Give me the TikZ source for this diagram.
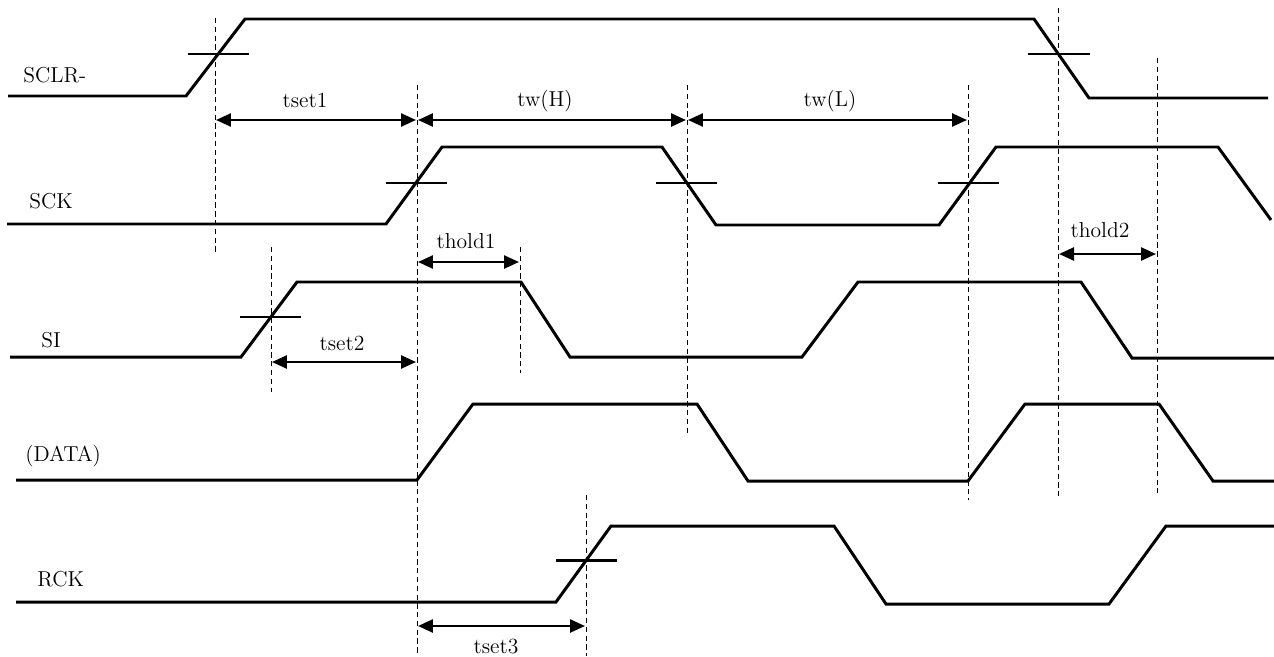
\documentclass[tikz,border=0pt]{standalone}
\usetikzlibrary{arrows.meta}
\begin{document}
\begin{tikzpicture}[x=0.02cm,y=-0.02cm,
    wave/.style={line width=1.7pt},
    tick/.style={line width=1.7pt},
    guide/.style={line width=0.5pt,dash pattern=on 3pt off 2pt},
    span/.style={line width=1.1pt,shorten <=0.6pt,shorten >=0.6pt,
      {Triangle[length=8.5pt,width=7.5pt]}-{Triangle[length=8.5pt,width=7.5pt]}},
    txt/.style={inner sep=0pt,font=\fontsize{12.3}{14}\selectfont}]
  \useasboundingbox (0,0) rectangle (1274,656);
  % signal names
  \node[txt,anchor=base west] (nsclr) at (23,82) {SCLR-};
  \node[txt,anchor=base west] (nsck) at (29,208) {SCK};
  \node[txt,anchor=base west] (nsi) at (41,347) {SI};
  \node[txt,anchor=base west] (ndata) at (25,461) {(DATA)};
  \node[txt,anchor=base west] (nrck) at (37,586) {RCK};
  % waveforms
  \draw[wave] (8,96) -- (186,96) -- (245,19) -- (1034,19) -- (1089,98) -- (1268,98);
  \draw[wave] (7,224) -- (386,224) -- (442,147) -- (662,147) -- (716,225)
    -- (939,225) -- (996,147) -- (1218,147) -- (1271,220);
  \draw[wave] (10,357) -- (241,357) -- (297,282) -- (521,282) -- (570,357)
    -- (802,357) -- (858,282) -- (1081,282) -- (1132,358) -- (1274,358);
  \draw[wave] (16,480) -- (417,480) -- (473,404) -- (697,404) -- (748,481)
    -- (968,481) -- (1025,404) -- (1159,404) -- (1213,481) -- (1274,481);
  \draw[wave] (16,602) -- (556,602) -- (611,526) -- (834,526) -- (886,604)
    -- (1109,604) -- (1166,526) -- (1274,526);
  % threshold marks
  \draw[tick] (188,54) -- (249,54) (1028,54) -- (1090,54);
  \draw[tick] (386,183) -- (447,183) (656,183) -- (717,183) (938,183) -- (999,183);
  \draw[tick] (240,317) -- (301,317);
  \draw[tick] (556,560) -- (617,560);
  % guide lines
  \draw[guide] (215,18) -- (215,253);
  \draw[guide] (417,85) -- (417,656);
  \draw[guide] (687,85) -- (687,435);
  \draw[guide] (968,85) -- (968,500);
  \draw[guide] (271,247) -- (271,392);
  \draw[guide] (520,247) -- (520,373);
  \draw[guide] (1058,8) -- (1058,498);
  \draw[guide] (1157,58) -- (1157,493);
  \draw[guide] (586,495) -- (586,656);
  % timing spans
  \coordinate (ts1a) at (215,120); \coordinate (ts1b) at (417,120);
  \coordinate (twha) at (417,120); \coordinate (twhb) at (687,120);
  \coordinate (twla) at (687,120); \coordinate (twlb) at (968,120);
  \coordinate (th1a) at (417,262); \coordinate (th1b) at (520,262);
  \coordinate (ts2a) at (271,362); \coordinate (ts2b) at (417,362);
  \coordinate (th2a) at (1058,254); \coordinate (th2b) at (1157,254);
  \coordinate (ts3a) at (417,626); \coordinate (ts3b) at (586,626);
  \draw[span] (ts1a) -- (ts1b);
  \draw[span] (twha) -- (twhb);
  \draw[span] (twla) -- (twlb);
  \draw[span] (th1a) -- (th1b);
  \draw[span] (ts2a) -- (ts2b);
  \draw[span] (th2a) -- (th2b);
  \draw[span] (ts3a) -- (ts3b);
  \node[txt,anchor=base] (lts1) at (305,107) {tset1};
  \node[txt,anchor=base] (ltwh) at (545,106) {tw(H)};
  \node[txt,anchor=base] (ltwl) at (830,106) {tw(L)};
  \node[txt,anchor=base] (lth1) at (466,248) {thold1};
  \node[txt,anchor=base] (lts2) at (342,350) {tset2};
  \node[txt,anchor=base] (lth2) at (1100,237) {thold2};
  \node[txt,anchor=base] (lts3) at (496,653) {tset3};
\end{tikzpicture}
\end{document}
